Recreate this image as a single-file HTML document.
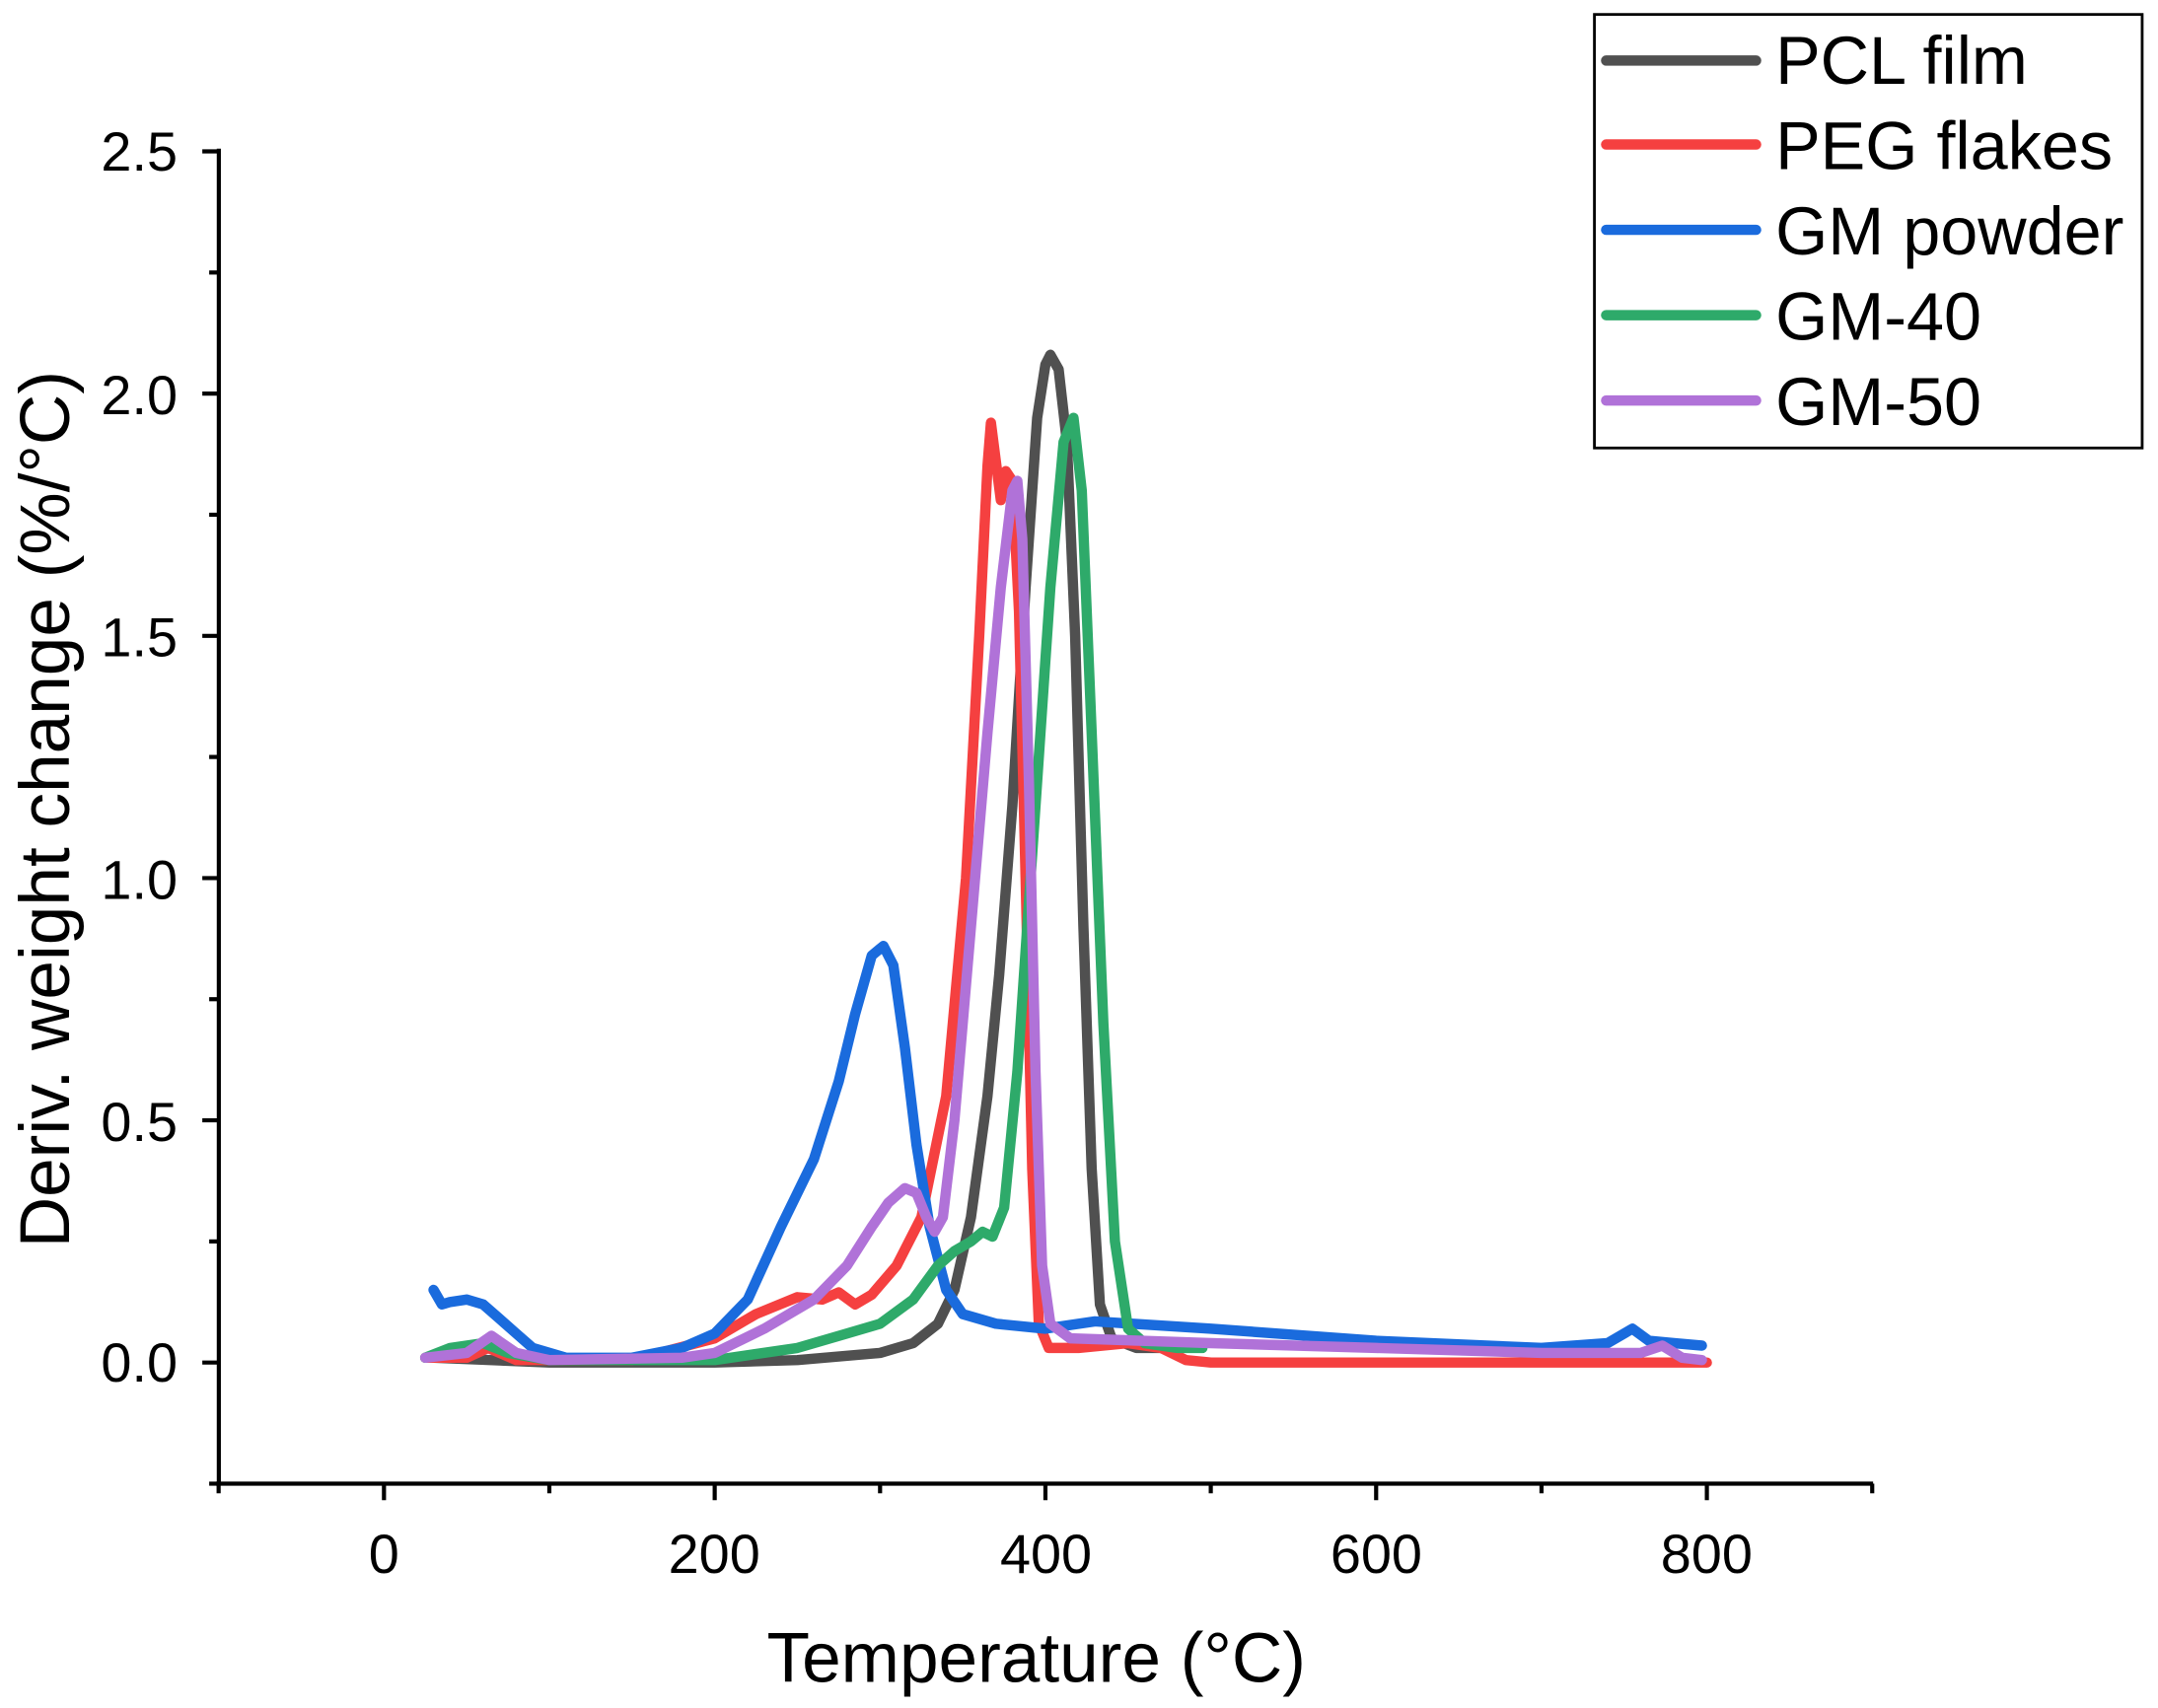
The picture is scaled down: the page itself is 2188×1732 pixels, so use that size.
<!DOCTYPE html>
<html><head><meta charset="utf-8"><style>
html,body{margin:0;padding:0;background:#fff;}
svg{display:block;}
text{font-family:"Liberation Sans",Arial,sans-serif;fill:#000;}
</style></head><body>
<svg id="s" width="2188" height="1732" viewBox="0 0 1568 1241" preserveAspectRatio="none" xmlns="http://www.w3.org/2000/svg">
<g id="axes" stroke="#000" stroke-width="3" fill="none">
<line x1="159" y1="108" x2="159" y2="1079"/>
<line x1="157" y1="1078" x2="1361" y2="1078"/>
</g>
<g id="ticks" stroke="#000" stroke-width="3"></g>
<g font-size="40" text-anchor="end">
<text x="129" y="124">2.5</text>
<text x="129" y="301">2.0</text>
<text x="129" y="477">1.5</text>
<text x="129" y="653">1.0</text>
<text x="129" y="829">0.5</text>
<text x="129" y="1004">0.0</text>
</g>
<g font-size="40" text-anchor="middle">
<text x="279" y="1143">0</text>
<text x="519" y="1143">200</text>
<text x="760" y="1143">400</text>
<text x="1000" y="1143">600</text>
<text x="1240" y="1143">800</text>
</g>
<text x="753" y="1222" font-size="51" text-anchor="middle">Temperature (°C)</text>
<text transform="translate(50,588) rotate(-90)" font-size="51" text-anchor="middle">Deriv. weight change (%/°C)</text>
<g id="curves" fill="none" stroke-width="7.5" stroke-linejoin="round" stroke-linecap="round"></g>
<rect x="1158.5" y="10.5" width="398" height="315" fill="none" stroke="#000" stroke-width="2"/>
<g stroke-width="7.5" stroke-linecap="round">
<line x1="1167" y1="44" x2="1276" y2="44" stroke="#505050"/>
<line x1="1167" y1="105" x2="1276" y2="105" stroke="#F54040"/>
<line x1="1167" y1="167" x2="1276" y2="167" stroke="#1A6BDD"/>
<line x1="1167" y1="229" x2="1276" y2="229" stroke="#2EAA6A"/>
<line x1="1167" y1="291" x2="1276" y2="291" stroke="#B072D8"/>
</g>
<g font-size="49">
<text x="1290" y="61">PCL film</text>
<text x="1290" y="123">PEG flakes</text>
<text x="1290" y="185">GM powder</text>
<text x="1290" y="247">GM-40</text>
<text x="1290" y="309">GM-50</text>
</g>
</svg>
<script>
var X=t=>279+1.2015*t, Y=v=>990-352*v;
var tk=document.getElementById('ticks'),ns='http://www.w3.org/2000/svg';
function ln(a,b,c,d){var l=document.createElementNS(ns,'line');l.setAttribute('x1',a);l.setAttribute('y1',b);l.setAttribute('x2',c);l.setAttribute('y2',d);tk.appendChild(l);}
for(var t=-100;t<=900;t+=100){var x=X(t);ln(x,1078,x,t%200==0?1090:1085);}
for(var v=-0.25;v<=2.5001;v+=0.25){var y=Y(v);var maj=Math.abs(v*2-Math.round(v*2))<1e-6;ln(159,y,maj?147:152,y);}
var D={
"#505050":[[30,0.01],[100,0],[200,0],[250,0.005],[300,0.02],[320,0.04],[335,0.08],[345,0.15],[355,0.3],[365,0.55],[372,0.8],[380,1.15],[388,1.6],[395,1.95],[400,2.06],[403,2.08],[408,2.05],[413,1.9],[418,1.5],[423,0.9],[428,0.4],[433,0.12],[440,0.05],[455,0.03],[480,0.03]],
"#F54040":[[25,0.01],[50,0.01],[63,0.03],[80,0.005],[150,0.005],[200,0.05],[225,0.1],[250,0.135],[265,0.13],[275,0.145],[285,0.12],[295,0.14],[310,0.2],[325,0.3],[340,0.55],[352,1.0],[360,1.5],[365,1.85],[367,1.94],[370,1.86],[373,1.78],[376,1.84],[380,1.82],[384,1.55],[388,1.0],[392,0.4],[396,0.08],[402,0.03],[420,0.03],[450,0.04],[470,0.03],[485,0.005],[500,0],[800,0]],
"#1A6BDD":[[30,0.15],[35,0.12],[40,0.125],[50,0.13],[60,0.12],[70,0.09],[80,0.06],[90,0.03],[110,0.01],[150,0.01],[180,0.03],[200,0.06],[220,0.13],[240,0.28],[260,0.42],[275,0.58],[285,0.72],[295,0.84],[302,0.86],[308,0.82],[315,0.65],[322,0.45],[330,0.28],[340,0.15],[350,0.1],[370,0.08],[400,0.07],[430,0.085],[500,0.07],[600,0.045],[700,0.03],[740,0.04],[755,0.07],[765,0.045],[780,0.04],[797,0.035]],
"#2EAA6A":[[25,0.01],[40,0.03],[60,0.04],[75,0.02],[100,0.005],[200,0.005],[250,0.03],[280,0.06],[300,0.08],[320,0.13],[335,0.2],[345,0.23],[355,0.25],[362,0.27],[368,0.26],[375,0.32],[383,0.6],[393,1.1],[403,1.6],[411,1.9],[417,1.95],[422,1.8],[428,1.3],[435,0.7],[442,0.25],[450,0.07],[460,0.04],[480,0.03],[495,0.03]],
"#B072D8":[[25,0.01],[50,0.02],[65,0.055],[80,0.02],[100,0.005],[180,0.01],[200,0.02],[230,0.07],[260,0.13],[280,0.2],[295,0.28],[305,0.33],[315,0.36],[322,0.35],[328,0.3],[333,0.27],[338,0.3],[345,0.5],[355,0.9],[365,1.3],[373,1.6],[380,1.8],[383,1.82],[386,1.7],[390,1.2],[394,0.6],[398,0.2],[403,0.08],[415,0.05],[500,0.04],[600,0.03],[700,0.02],[760,0.02],[773,0.035],[785,0.01],[797,0.005]]
};
var g=document.getElementById('curves');
for(var c in D){var p=document.createElementNS(ns,'path');p.setAttribute('stroke',c);p.setAttribute('d','M'+D[c].map(q=>X(q[0]).toFixed(1)+','+Y(q[1]).toFixed(1)).join(' L'));g.appendChild(p);}
</script>
</body></html>
